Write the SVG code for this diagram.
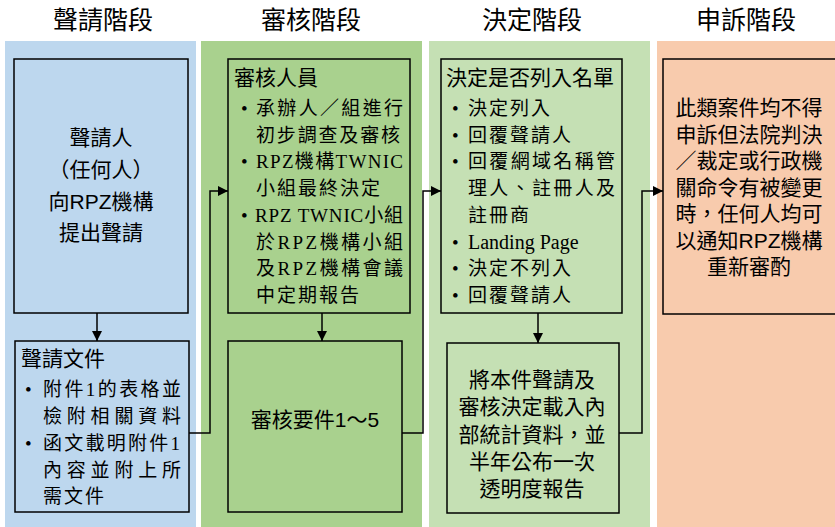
<svg xmlns="http://www.w3.org/2000/svg" width="835" height="527" viewBox="0 0 835 527">
<style>
.head{font-family:"Liberation Sans","Noto Sans CJK TC",sans-serif;font-size:25px;fill:#000;text-anchor:middle}
.box{stroke:#000;stroke-width:1.5}
.sans{font-family:"Liberation Sans","Noto Sans CJK TC",sans-serif;font-size:21px;fill:#000}
.mid{text-anchor:middle}
.ser{font-family:"Liberation Serif","Noto Sans CJK TC",serif;font-size:19px;fill:#000;letter-spacing:2px}
.bul{font-family:"Liberation Serif",serif;font-size:19px;fill:#000}
.conn{fill:none;stroke:#000;stroke-width:1.5}
</style>
<defs>
<marker id="ah" viewBox="0 0 10 10" refX="10" refY="5" markerWidth="10" markerHeight="10" markerUnits="userSpaceOnUse" orient="auto">
<path d="M0,0 L10,5 L0,10 z" fill="#000"/>
</marker>
</defs>
<g id="lanes">
<rect x="5" y="41" width="191" height="486" fill="#BDD7EE"/>
<rect x="201" y="41" width="221" height="486" fill="#A9D18E"/>
<rect x="429" y="41" width="221" height="486" fill="#C5E0B4"/>
<rect x="657" y="41" width="178" height="486" fill="#F8CBAD"/>
<text class="head" x="103" y="29">聲請階段</text>
<text class="head" x="311" y="29">審核階段</text>
<text class="head" x="532" y="29">決定階段</text>
<text class="head" x="746" y="29">申訴階段</text>
</g>
<g id="n1">
<rect class="box" x="14" y="59" width="174" height="254" fill="#BDD7EE"/>
<text class="sans mid" x="101" y="145">聲請人</text>
<text class="sans mid" x="101" y="177">（任何人）</text>
<text class="sans mid" x="101" y="209">向RPZ機構</text>
<text class="sans mid" x="101" y="240">提出聲請</text>
</g>
<g id="n2">
<rect class="box" x="15" y="341" width="174" height="171" fill="#BDD7EE"/>
<text class="sans" x="21" y="366">聲請文件</text>
<text class="bul" x="25" y="396">•</text>
<text class="ser" x="43" y="396" textLength="140" lengthAdjust="spacing">附件1的表格並</text>
<text class="ser" x="43" y="423" textLength="140" lengthAdjust="spacing">檢附相關資料</text>
<text class="bul" x="25" y="450">•</text>
<text class="ser" x="43" y="450" textLength="139" lengthAdjust="spacing">函文載明附件1</text>
<text class="ser" x="43" y="477" textLength="140" lengthAdjust="spacing">內容並附上所</text>
<text class="ser" x="43" y="503">需文件</text>
</g>
<g id="n3">
<rect class="box" x="228" y="59" width="182" height="254" fill="#A9D18E"/>
<text class="sans" x="234" y="85">審核人員</text>
<text class="bul" x="241" y="115">•</text>
<text class="ser" x="256" y="115" textLength="149" lengthAdjust="spacing">承辦人／組進行</text>
<text class="ser" x="256" y="141.7" textLength="146" lengthAdjust="spacing">初步調查及審核</text>
<text class="bul" x="241" y="168.4">•</text>
<text class="ser" x="256" y="168.4" textLength="149" lengthAdjust="spacing">RPZ機構TWNIC</text>
<text class="ser" x="256" y="195.1">小組最終決定</text>
<text class="bul" x="241" y="221.8">•</text>
<text class="ser" x="255" y="221.8" textLength="150" lengthAdjust="spacing">RPZ TWNIC小組</text>
<text class="ser" x="256" y="248.5" textLength="149" lengthAdjust="spacing">於RPZ機構小組</text>
<text class="ser" x="256" y="275.2" textLength="149" lengthAdjust="spacing">及RPZ機構會議</text>
<text class="ser" x="256" y="301.9">中定期報告</text>
</g>
<g id="n4">
<rect class="box" x="228" y="341" width="174" height="171" fill="#A9D18E"/>
<text class="sans mid" x="315" y="427">審核要件1～5</text>
</g>
<g id="n5">
<rect class="box" x="441" y="59" width="181" height="254" fill="#C5E0B4"/>
<text class="sans" x="446" y="85">決定是否列入名單</text>
<text class="bul" x="452" y="115">•</text>
<text class="ser" x="468" y="115">決定列入</text>
<text class="bul" x="452" y="141.7">•</text>
<text class="ser" x="468" y="141.7">回覆聲請人</text>
<text class="bul" x="452" y="168.4">•</text>
<text class="ser" x="468" y="168.4" textLength="149" lengthAdjust="spacing">回覆網域名稱管</text>
<text class="ser" x="468" y="195.1" textLength="149" lengthAdjust="spacing">理人、註冊人及</text>
<text class="ser" x="468" y="221.8">註冊商</text>
<text class="bul" x="452" y="248.5">•</text>
<text class="ser" x="468" y="248.5" style="letter-spacing:0;font-size:20px">Landing Page</text>
<text class="bul" x="452" y="275.2">•</text>
<text class="ser" x="468" y="275.2">決定不列入</text>
<text class="bul" x="452" y="301.9">•</text>
<text class="ser" x="468" y="301.9">回覆聲請人</text>
</g>
<g id="n6">
<rect class="box" x="447" y="343" width="172" height="170" fill="#C5E0B4"/>
<text class="sans mid" x="532" y="387">將本件聲請及</text>
<text class="sans mid" x="532" y="414">審核決定載入內</text>
<text class="sans mid" x="532" y="441.5">部統計資料，並</text>
<text class="sans mid" x="532" y="468.5">半年公布一次</text>
<text class="sans mid" x="532" y="496">透明度報告</text>
</g>
<g id="n7">
<rect class="box" x="663" y="59" width="185" height="255" fill="#F8CBAD"/>
<text class="sans mid" x="749" y="115">此類案件均不得</text>
<text class="sans mid" x="749" y="141.5">申訴但法院判決</text>
<text class="sans mid" x="749" y="168">／裁定或行政機</text>
<text class="sans mid" x="749" y="194.5">關命令有被變更</text>
<text class="sans mid" x="749" y="221">時，任何人均可</text>
<text class="sans mid" x="749" y="247.5">以通知RPZ機構</text>
<text class="sans mid" x="749" y="274">重新審酌</text>
</g>
<g id="connectors">
<path class="conn" d="M97,313 V341" marker-end="url(#ah)"/>
<path class="conn" d="M322,313 V341" marker-end="url(#ah)"/>
<path class="conn" d="M538,313 V343" marker-end="url(#ah)"/>
<path class="conn" d="M189,433 H210 V191 H228" marker-end="url(#ah)"/>
<path class="conn" d="M402,433 H423 V191 H441" marker-end="url(#ah)"/>
<path class="conn" d="M619,433 H642 V191 H663" marker-end="url(#ah)"/>
</g>
</svg>
